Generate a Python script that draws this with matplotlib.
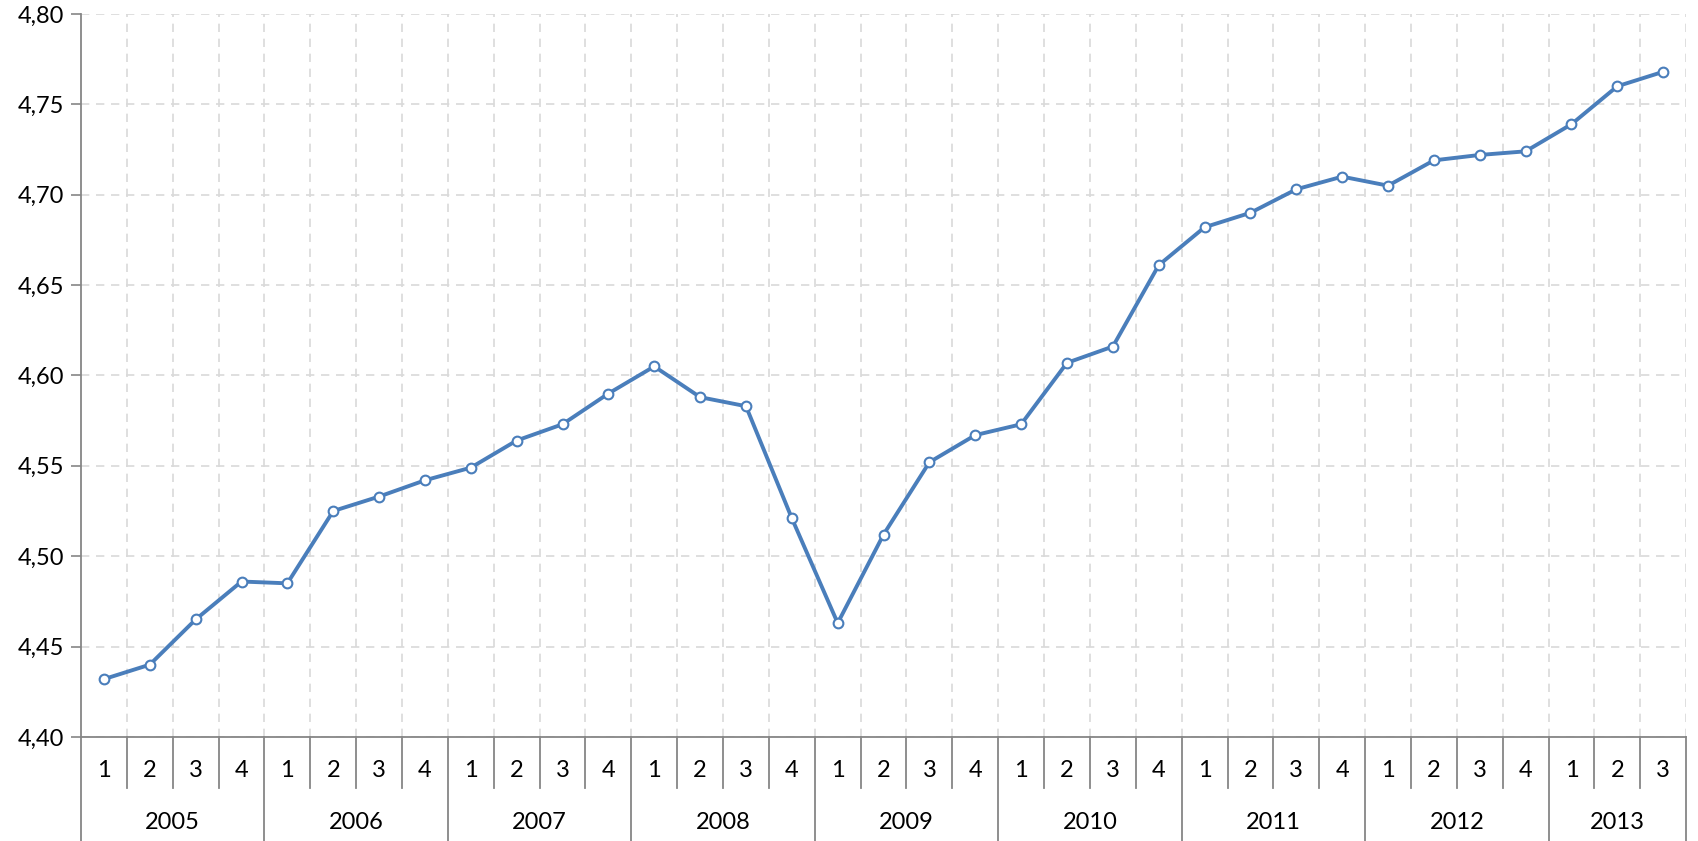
import matplotlib
matplotlib.use("Agg")
import matplotlib.pyplot as plt
from matplotlib.ticker import FuncFormatter, MultipleLocator
import matplotlib.transforms as mtransforms

years = ["2005", "2006", "2007", "2008", "2009", "2010", "2011", "2012", "2013"]
quarters_per_year = [4, 4, 4, 4, 4, 4, 4, 4, 3]
values = [4.432, 4.440, 4.465, 4.486,
          4.485, 4.525, 4.533, 4.542,
          4.549, 4.564, 4.573, 4.590,
          4.605, 4.588, 4.583, 4.521,
          4.463, 4.512, 4.552, 4.567,
          4.573, 4.607, 4.616, 4.661,
          4.682, 4.690, 4.703, 4.710,
          4.705, 4.719, 4.722, 4.724,
          4.739, 4.760, 4.768]

quarter_labels = []
for n in quarters_per_year:
    quarter_labels += [str(q + 1) for q in range(n)]

plt.rcParams["font.family"] = ["Lato", "DejaVu Sans"]

fig = plt.figure(figsize=(16.98, 8.41), dpi=100)
ax = fig.add_axes([0.0477, 0.1237, 0.9453, 0.8597])

x = list(range(len(values)))
ax.plot(x, values, color="#4a7ebb", lw=2.8, marker="o", ms=7,
        mfc="white", mec="#4a7ebb", mew=1.5, zorder=3)

ax.set_xlim(-0.5, len(values) - 0.5)
ax.set_ylim(4.40, 4.80)
ax.yaxis.set_major_locator(MultipleLocator(0.05))
ax.yaxis.set_major_formatter(FuncFormatter(lambda v, p: f"{v:.2f}".replace(".", ",")))
ax.tick_params(axis="y", length=7, width=1.2, color="#868686", labelsize=17, pad=5)

# grid: horizontal at major ticks, vertical at category boundaries
ax.set_xticks([i + 0.5 for i in range(len(values))], minor=True)
ax.set_xticks([])
ax.grid(axis="y", which="major", color="#d9d9d9", ls=(0, (5, 4)), lw=1.2)
ax.grid(axis="x", which="minor", color="#d9d9d9", ls=(0, (5, 4)), lw=1.2)
ax.tick_params(axis="x", which="minor", length=0)

for s in ["top", "right"]:
    ax.spines[s].set_visible(False)
for s in ["left", "bottom"]:
    ax.spines[s].set_color("#868686")
    ax.spines[s].set_linewidth(1.3)

# two-level category axis
trans = mtransforms.blended_transform_factory(ax.transData, ax.transAxes)
year_bounds = [-0.5]
for n in quarters_per_year:
    year_bounds.append(year_bounds[-1] + n)
for b in [i - 0.5 for i in range(len(values) + 1)]:
    low = -0.144 if b in year_bounds else -0.0705
    ax.plot([b, b], [0, low], transform=trans, color="#868686", lw=1.3, clip_on=False)

for i, q in enumerate(quarter_labels):
    ax.text(i, -0.047, q, transform=trans, ha="center", va="center", fontsize=17)
for k, yr in enumerate(years):
    mid = (year_bounds[k] + year_bounds[k + 1]) / 2
    ax.text(mid, -0.118, yr, transform=trans, ha="center", va="center", fontsize=17)

fig.savefig("out.png", dpi=100)
